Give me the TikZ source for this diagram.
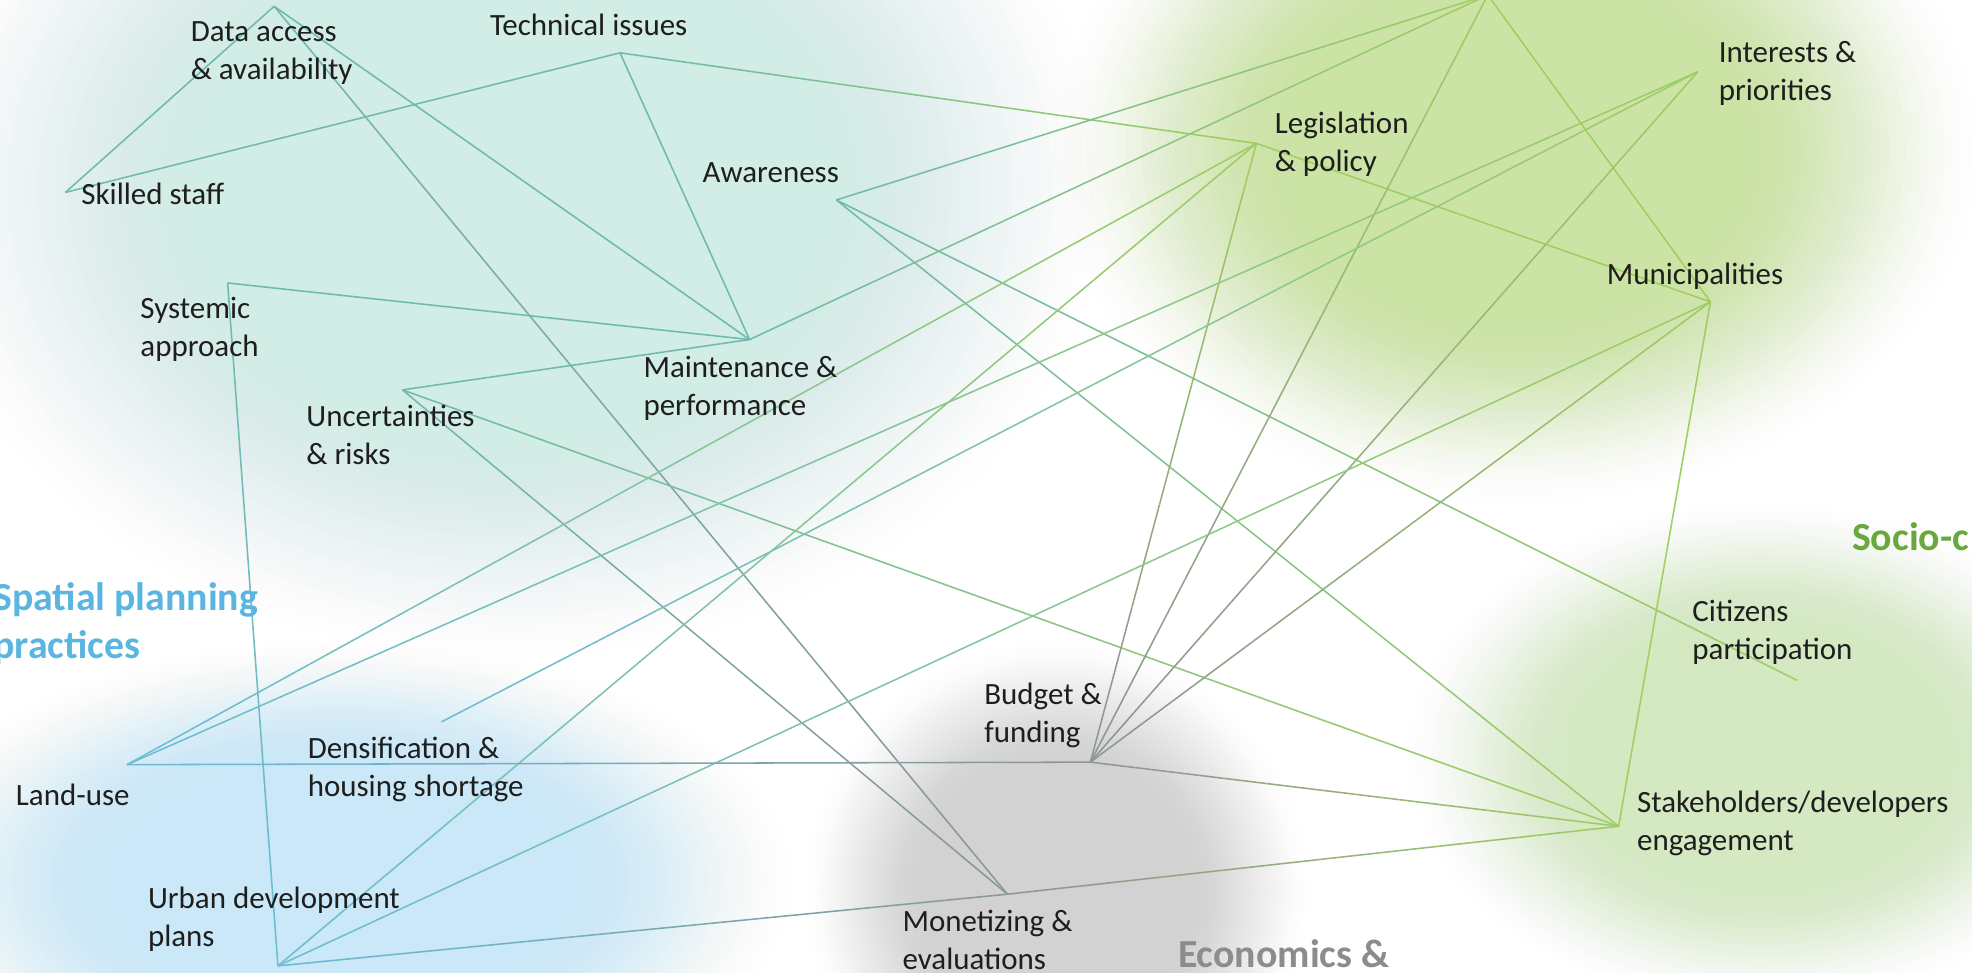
\documentclass[tikz,border=0pt]{standalone}
\usepackage{fontspec}
\setmainfont{Carlito}
\usetikzlibrary{calc}
\definecolor{tealB}{RGB}{210,236,230}
\definecolor{greenB}{RGB}{204,227,166}
\definecolor{greenBB}{RGB}{212,233,194}
\definecolor{blueB}{RGB}{202,232,247}
\definecolor{grayB}{RGB}{210,210,210}
\definecolor{tealL}{RGB}{112,186,172}
\definecolor{blueL}{RGB}{108,188,214}
\definecolor{grayL}{RGB}{140,150,150}
\definecolor{greenL}{RGB}{160,206,96}
\definecolor{txt}{RGB}{30,30,30}
\definecolor{catblue}{RGB}{90,182,225}
\definecolor{catgray}{RGB}{140,140,140}
\definecolor{catgreen}{RGB}{104,168,60}
\tikzset{
  lbl/.style={anchor=west, inner sep=0pt, align=left, text=txt, font=\fontsize{7}{8.6}\selectfont},
  cat/.style={anchor=west, inner sep=0pt, align=left, font=\fontsize{9}{10.8}\selectfont\bfseries},
  linkline/.style={line width=0.35pt, line cap=butt},
}
% soft blob: layered ellipses whose summed opacity follows a smoothstep
\newcommand{\softblob}[5]{%
  \foreach \k in {1,...,30}{%
    \pgfmathsetmacro\s{1-0.5*(\k-1)/29}%
    \pgfmathsetmacro\ta{(\k-1)/30}%
    \pgfmathsetmacro\tb{\k/30}%
    \pgfmathsetmacro\Fa{0.97*\ta*\ta*(3-2*\ta)}%
    \pgfmathsetmacro\Fb{0.97*\tb*\tb*(3-2*\tb)}%
    \pgfmathsetmacro\al{1-(1-\Fb)/(1-\Fa)}%
    \fill[#1, fill opacity=\al] (#2,#3) ellipse ({#4*\s} and {#5*\s});
  }%
}
\newcommand{\linkedge}[4]{%
  \foreach \i in {0,...,11}{%
    \pgfmathtruncatemacro\p{(\i+0.5)*100/12}%
    \draw[linkline, draw=#4!\p!#3] ($(#1)!\i/12!(#2)$) -- ($(#1)!{(\i+1)/12}!(#2)$);
  }%
}
\begin{document}
\begin{tikzpicture}[x=0.01cm, y=-0.01cm]
\useasboundingbox (0,0) rectangle (1568,773.66);
\clip (0,0) rectangle (1568,773.66);
\fill[white] (0,0) rectangle (1568,773.66);
% background blobs
\softblob{tealB}{405}{150}{473}{373}
\softblob{blueB}{270}{700}{360}{190}
\softblob{grayB}{840}{710}{200}{200}
\softblob{greenB}{1205}{120}{367}{280}
\softblob{greenBB}{1400}{600}{280}{200}
% vertices
\coordinate (da) at (218,5);
\coordinate (ti) at (493,42);
\coordinate (ss) at (52,153);
\coordinate (aw) at (665,159);
\coordinate (lp) at (999,114);
\coordinate (top) at (1183,-4);
\coordinate (ip) at (1350,57);
\coordinate (mu) at (1360,240);
\coordinate (sa) at (181,225);
\coordinate (mp) at (596,270);
\coordinate (ur) at (320,310);
\coordinate (lu) at (101,608);
\coordinate (dh) at (351,574);
\coordinate (bf) at (867,606);
\coordinate (cp) at (1429,541);
\coordinate (sd) at (1287,657);
\coordinate (ud) at (221,768);
\coordinate (me) at (801,711);
% connectors
\linkedge{ss}{da}{tealL}{tealL}
\linkedge{ss}{ti}{tealL}{tealL}
\linkedge{da}{mp}{tealL}{tealL}
\linkedge{da}{me}{tealL}{grayL}
\linkedge{ti}{mp}{tealL}{tealL}
\linkedge{ti}{lp}{tealL}{greenL}
\linkedge{sa}{mp}{tealL}{tealL}
\linkedge{sa}{ud}{tealL}{blueL}
\linkedge{ur}{mp}{tealL}{tealL}
\linkedge{ur}{me}{tealL}{grayL}
\linkedge{ur}{sd}{tealL}{greenL}
\linkedge{aw}{top}{tealL}{greenL}
\linkedge{aw}{sd}{tealL}{greenL}
\linkedge{aw}{cp}{tealL}{greenL}
\linkedge{mp}{top}{tealL}{greenL}
\linkedge{lp}{mu}{greenL}{greenL}
\linkedge{lu}{lp}{blueL}{greenL}
\linkedge{bf}{lp}{grayL}{greenL}
\linkedge{ud}{lp}{blueL}{greenL}
\linkedge{bf}{top}{grayL}{greenL}
\linkedge{top}{mu}{greenL}{greenL}
\linkedge{lu}{ip}{blueL}{greenL}
\linkedge{dh}{ip}{blueL}{greenL}
\linkedge{bf}{ip}{grayL}{greenL}
\linkedge{bf}{mu}{grayL}{greenL}
\linkedge{sd}{mu}{greenL}{greenL}
\linkedge{ud}{mu}{blueL}{greenL}
\linkedge{lu}{bf}{blueL}{grayL}
\linkedge{bf}{sd}{grayL}{greenL}
\linkedge{ud}{me}{blueL}{grayL}
\linkedge{me}{sd}{grayL}{greenL}
% labels
\node[lbl] (daT) at (151,42) {Data access\\\& availability};
\node[lbl] (tiT) at (389,20) {Technical issues};
\node[lbl] (ssT) at (64,154) {Skilled staff};
\node[lbl] (awT) at (558,137) {Awareness};
\node[lbl] (lpT) at (1013,115) {Legislation\\\& policy};
\node[lbl] (ipT) at (1366,58) {Interests \&\\priorities};
\node[lbl] (muT) at (1277,220) {Municipalities};
\node[lbl] (saT) at (111,262) {Systemic\\approach};
\node[lbl] (mpT) at (511,309) {Maintenance \&\\performance};
\node[lbl] (urT) at (243,346) {Uncertainties\\\& risks};
\node[lbl] (luT) at (12,632) {Land-use};
\node[lbl] (dhT) at (244,612) {Densification \&\\housing shortage};
\node[lbl] (bfT) at (782,569) {Budget \&\\funding};
\node[lbl] (cpT) at (1345,503) {Citizens\\participation};
\node[lbl] (sdT) at (1301,655) {Stakeholders/developers\\engagement};
\node[lbl] (udT) at (117,731) {Urban development\\plans};
\node[lbl] (meT) at (717,747) {Monetizing \&\\evaluations};
\node[cat, text=catblue] (spT) at (-6,496) {Spatial planning\\practices};
\node[cat, text=catgray] (ecT) at (936,758) {Economics \&};
\node[cat, text=catgreen] (soT) at (1472,427) {Socio-c};
\end{tikzpicture}
\end{document}
